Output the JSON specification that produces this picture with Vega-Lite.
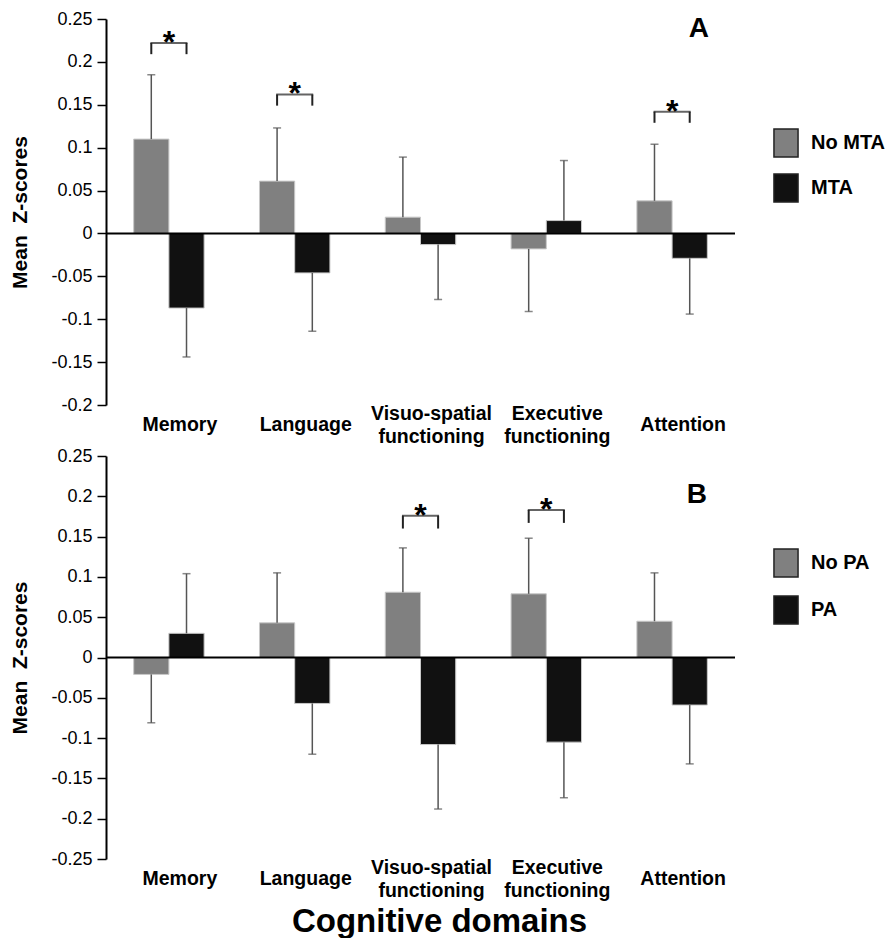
{
  "$schema": "https://vega.github.io/schema/vega-lite/v6.json",
  "padding": {"left": 9, "top": 10, "right": 0, "bottom": 0},
  "config": {
    "font": "Liberation Sans",
    "view": {"stroke": null},
    "axis": {"grid": false, "labelColor": "#000", "titleColor": "#000"}
  },
  "datasets": {
    "mta": [
      {"domain": "Memory", "group": "No MTA", "mean": 0.110, "err": 0.185},
      {"domain": "Memory", "group": "MTA", "mean": -0.087, "err": -0.144},
      {"domain": "Language", "group": "No MTA", "mean": 0.061, "err": 0.123},
      {"domain": "Language", "group": "MTA", "mean": -0.046, "err": -0.114},
      {"domain": "Visuo-spatial functioning", "group": "No MTA", "mean": 0.019, "err": 0.089},
      {"domain": "Visuo-spatial functioning", "group": "MTA", "mean": -0.013, "err": -0.077},
      {"domain": "Executive functioning", "group": "No MTA", "mean": -0.018, "err": -0.091},
      {"domain": "Executive functioning", "group": "MTA", "mean": 0.015, "err": 0.085},
      {"domain": "Attention", "group": "No MTA", "mean": 0.038, "err": 0.104},
      {"domain": "Attention", "group": "MTA", "mean": -0.029, "err": -0.094}
    ],
    "mtaSig": [
      {"domain": "Memory", "group": "No MTA", "top": 0.222, "low": 0.209},
      {"domain": "Memory", "group": "MTA", "top": 0.222, "low": 0.209},
      {"domain": "Language", "group": "No MTA", "top": 0.162, "low": 0.149},
      {"domain": "Language", "group": "MTA", "top": 0.162, "low": 0.149},
      {"domain": "Attention", "group": "No MTA", "top": 0.142, "low": 0.129},
      {"domain": "Attention", "group": "MTA", "top": 0.142, "low": 0.129}
    ],
    "pa": [
      {"domain": "Memory", "group": "No PA", "mean": -0.021, "err": -0.081},
      {"domain": "Memory", "group": "PA", "mean": 0.030, "err": 0.104},
      {"domain": "Language", "group": "No PA", "mean": 0.043, "err": 0.105},
      {"domain": "Language", "group": "PA", "mean": -0.057, "err": -0.120},
      {"domain": "Visuo-spatial functioning", "group": "No PA", "mean": 0.081, "err": 0.136},
      {"domain": "Visuo-spatial functioning", "group": "PA", "mean": -0.108, "err": -0.188},
      {"domain": "Executive functioning", "group": "No PA", "mean": 0.079, "err": 0.148},
      {"domain": "Executive functioning", "group": "PA", "mean": -0.105, "err": -0.174},
      {"domain": "Attention", "group": "No PA", "mean": 0.045, "err": 0.105},
      {"domain": "Attention", "group": "PA", "mean": -0.059, "err": -0.132}
    ],
    "paSig": [
      {"domain": "Visuo-spatial functioning", "group": "No PA", "top": 0.176, "low": 0.160},
      {"domain": "Visuo-spatial functioning", "group": "PA", "top": 0.176, "low": 0.160},
      {"domain": "Executive functioning", "group": "No PA", "top": 0.183, "low": 0.167},
      {"domain": "Executive functioning", "group": "PA", "top": 0.183, "low": 0.167}
    ]
  },
  "spacing": 51,
  "bounds": "flush",
  "resolve": {"scale": {"color": "independent", "y": "independent", "x": "independent", "xOffset": "independent"}, "legend": {"color": "independent"}},
  "vconcat": [
    {
      "width": 629,
      "height": 386,
      "title": {"text": "A", "orient": "top", "anchor": "end", "frame": "group", "offset": -27, "dy": 28, "dx": -26, "fontSize": 28, "fontWeight": "bold", "baseline": "alphabetic", "color": "#000"},
      "layer": [
        {
          "data": {"name": "mta"},
          "mark": {"type": "bar", "stroke": "#c8c8c8", "strokeWidth": 1},
          "encoding": {
            "x": {"field": "domain", "type": "nominal", "sort": ["Memory", "Language", "Visuo-spatial functioning", "Executive functioning", "Attention"],
              "scale": {"paddingInner": 0.44, "paddingOuter": 0.22},
              "axis": {"title": null, "labelAngle": 0, "labelFontSize": 19.5, "labelFontWeight": "bold", "labelExpr": "split(datum.label, ' ')", "labelLineHeight": 23, "labelBaseline": "middle",
                "labelPadding": {"condition": {"test": "indexof(datum.value, ' ') >= 0", "value": 8.5}, "value": 19.5},
                "labelOffset": 11, "ticks": false, "tickSize": 0, "domain": false, "labelOverlap": false, "labelBound": false, "labelLimit": 0}},
            "xOffset": {"field": "group", "type": "nominal", "sort": ["No MTA", "MTA"]},
            "y": {"field": "mean", "type": "quantitative", "scale": {"domain": [-0.2, 0.25], "nice": false, "zero": false},
              "axis": {"title": "Mean\u00a0 Z-scores", "values": [-0.2, -0.15, -0.1, -0.05, 0, 0.05, 0.1, 0.15, 0.2, 0.25], "format": "~g", "labelExpr": "replace(datum.label, '\u2212', '-')", "labelFontSize": 18, "labelPadding": 5, "tickSize": 9, "tickWidth": 1.5, "tickColor": "#000", "domainColor": "#000", "domainWidth": 2, "titleFontSize": 21, "titleFontWeight": "bold", "titlePadding": 20}},
            "color": {"field": "group", "type": "nominal", "scale": {"domain": ["No MTA", "MTA"], "range": ["#808080", "#111111"]},
              "legend": {"orient": "none", "legendX": 665, "legendY": 109, "direction": "vertical", "title": null, "symbolType": "M-0.86,-1H0.86V1H-0.86Z", "symbolSize": 784, "symbolStrokeColor": "#222", "symbolStrokeWidth": 1.5, "labelFontSize": 20, "labelFontWeight": "bold", "labelColor": "#000", "labelOffset": 10, "rowPadding": 11, "padding": 0}}
          }
        },
        {
          "data": {"name": "mta"},
          "mark": {"type": "rule", "color": "#555", "strokeWidth": 1.5},
          "encoding": {
            "x": {"field": "domain", "type": "nominal", "sort": ["Memory", "Language", "Visuo-spatial functioning", "Executive functioning", "Attention"]},
            "xOffset": {"field": "group", "type": "nominal", "sort": ["No MTA", "MTA"]},
            "y": {"field": "mean", "type": "quantitative"},
            "y2": {"field": "err"}
          }
        },
        {
          "data": {"name": "mta"},
          "mark": {"type": "tick", "orient": "horizontal", "color": "#555", "thickness": 1.5, "size": 8},
          "encoding": {
            "x": {"field": "domain", "type": "nominal", "sort": ["Memory", "Language", "Visuo-spatial functioning", "Executive functioning", "Attention"]},
            "xOffset": {"field": "group", "type": "nominal", "sort": ["No MTA", "MTA"]},
            "y": {"field": "err", "type": "quantitative"}
          }
        },
        {
          "data": {"values": [{}]},
          "mark": {"type": "rule", "color": "#000", "strokeWidth": 2},
          "encoding": {"y": {"datum": 0}}
        },
        {
          "data": {"name": "mtaSig"},
          "mark": {"type": "rule", "color": "#222", "strokeWidth": 2},
          "encoding": {
            "x": {"field": "domain", "type": "nominal", "sort": ["Memory", "Language", "Visuo-spatial functioning", "Executive functioning", "Attention"]},
            "xOffset": {"field": "group", "type": "nominal", "sort": ["No MTA", "MTA"]},
            "y": {"field": "low", "type": "quantitative"},
            "y2": {"field": "top"}
          }
        },
        {
          "data": {"name": "mtaSig"},
          "transform": [{"filter": "datum.group === 'No MTA'"}],
          "mark": {"type": "tick", "orient": "horizontal", "color": "#222", "thickness": 2, "size": 37},
          "encoding": {
            "x": {"field": "domain", "type": "nominal", "sort": ["Memory", "Language", "Visuo-spatial functioning", "Executive functioning", "Attention"]},
            "y": {"field": "top", "type": "quantitative"}
          }
        },
        {
          "data": {"name": "mtaSig"},
          "transform": [{"filter": "datum.group === 'No MTA'"}],
          "mark": {"type": "text", "text": "*", "fontSize": 32, "fontWeight": "bold", "baseline": "alphabetic", "dy": 10, "color": "#000"},
          "encoding": {
            "x": {"field": "domain", "type": "nominal", "sort": ["Memory", "Language", "Visuo-spatial functioning", "Executive functioning", "Attention"]},
            "y": {"field": "top", "type": "quantitative"}
          }
        }
      ]
    },
    {
      "width": 629,
      "height": 403,
      "title": {"text": "B", "orient": "top", "anchor": "end", "frame": "group", "offset": -55, "dy": 28.5, "dx": -28, "fontSize": 28, "fontWeight": "bold", "baseline": "alphabetic", "color": "#000"},
      "layer": [
        {
          "data": {"name": "pa"},
          "mark": {"type": "bar", "stroke": "#c8c8c8", "strokeWidth": 1},
          "encoding": {
            "x": {"field": "domain", "type": "nominal", "sort": ["Memory", "Language", "Visuo-spatial functioning", "Executive functioning", "Attention"],
              "scale": {"paddingInner": 0.44, "paddingOuter": 0.22},
              "axis": {"title": "Cognitive domains", "titleFontSize": 33, "titleFontWeight": "bold", "titleBaseline": "alphabetic", "titleX": 333, "titleY": 72.5, "titleAngle": 0, "labelAngle": 0, "labelFontSize": 19.5, "labelFontWeight": "bold", "labelExpr": "split(datum.label, ' ')", "labelLineHeight": 23, "labelBaseline": "middle",
                "labelPadding": {"condition": {"test": "indexof(datum.value, ' ') >= 0", "value": 8.5}, "value": 19.5},
                "labelOffset": 11, "ticks": false, "tickSize": 0, "domain": false, "labelOverlap": false, "labelBound": false, "labelLimit": 0}},
            "xOffset": {"field": "group", "type": "nominal", "sort": ["No PA", "PA"]},
            "y": {"field": "mean", "type": "quantitative", "scale": {"domain": [-0.25, 0.25], "nice": false, "zero": false},
              "axis": {"title": "Mean\u00a0 Z-scores", "values": [-0.25, -0.2, -0.15, -0.1, -0.05, 0, 0.05, 0.1, 0.15, 0.2, 0.25], "format": "~g", "labelExpr": "replace(datum.label, '\u2212', '-')", "labelFontSize": 18, "labelPadding": 5, "tickSize": 9, "tickWidth": 1.5, "tickColor": "#000", "domainColor": "#000", "domainWidth": 2, "titleFontSize": 21, "titleFontWeight": "bold", "titlePadding": 20}},
            "color": {"field": "group", "type": "nominal", "scale": {"domain": ["No PA", "PA"], "range": ["#808080", "#111111"]},
              "legend": {"orient": "none", "legendX": 665, "legendY": 92, "direction": "vertical", "title": null, "symbolType": "M-0.86,-1H0.86V1H-0.86Z", "symbolSize": 784, "symbolStrokeColor": "#222", "symbolStrokeWidth": 1.5, "labelFontSize": 20, "labelFontWeight": "bold", "labelColor": "#000", "labelOffset": 10, "rowPadding": 13, "padding": 0}}
          }
        },
        {
          "data": {"name": "pa"},
          "mark": {"type": "rule", "color": "#555", "strokeWidth": 1.5},
          "encoding": {
            "x": {"field": "domain", "type": "nominal", "sort": ["Memory", "Language", "Visuo-spatial functioning", "Executive functioning", "Attention"]},
            "xOffset": {"field": "group", "type": "nominal", "sort": ["No PA", "PA"]},
            "y": {"field": "mean", "type": "quantitative"},
            "y2": {"field": "err"}
          }
        },
        {
          "data": {"name": "pa"},
          "mark": {"type": "tick", "orient": "horizontal", "color": "#555", "thickness": 1.5, "size": 8},
          "encoding": {
            "x": {"field": "domain", "type": "nominal", "sort": ["Memory", "Language", "Visuo-spatial functioning", "Executive functioning", "Attention"]},
            "xOffset": {"field": "group", "type": "nominal", "sort": ["No PA", "PA"]},
            "y": {"field": "err", "type": "quantitative"}
          }
        },
        {
          "data": {"values": [{}]},
          "mark": {"type": "rule", "color": "#000", "strokeWidth": 2},
          "encoding": {"y": {"datum": 0}}
        },
        {
          "data": {"name": "paSig"},
          "mark": {"type": "rule", "color": "#222", "strokeWidth": 2},
          "encoding": {
            "x": {"field": "domain", "type": "nominal", "sort": ["Memory", "Language", "Visuo-spatial functioning", "Executive functioning", "Attention"]},
            "xOffset": {"field": "group", "type": "nominal", "sort": ["No PA", "PA"]},
            "y": {"field": "low", "type": "quantitative"},
            "y2": {"field": "top"}
          }
        },
        {
          "data": {"name": "paSig"},
          "transform": [{"filter": "datum.group === 'No PA'"}],
          "mark": {"type": "tick", "orient": "horizontal", "color": "#222", "thickness": 2, "size": 37},
          "encoding": {
            "x": {"field": "domain", "type": "nominal", "sort": ["Memory", "Language", "Visuo-spatial functioning", "Executive functioning", "Attention"]},
            "y": {"field": "top", "type": "quantitative"}
          }
        },
        {
          "data": {"name": "paSig"},
          "transform": [{"filter": "datum.group === 'No PA'"}],
          "mark": {"type": "text", "text": "*", "fontSize": 32, "fontWeight": "bold", "baseline": "alphabetic", "dy": 10, "color": "#000"},
          "encoding": {
            "x": {"field": "domain", "type": "nominal", "sort": ["Memory", "Language", "Visuo-spatial functioning", "Executive functioning", "Attention"]},
            "y": {"field": "top", "type": "quantitative"}
          }
        }
      ]
    }
  ]
}
